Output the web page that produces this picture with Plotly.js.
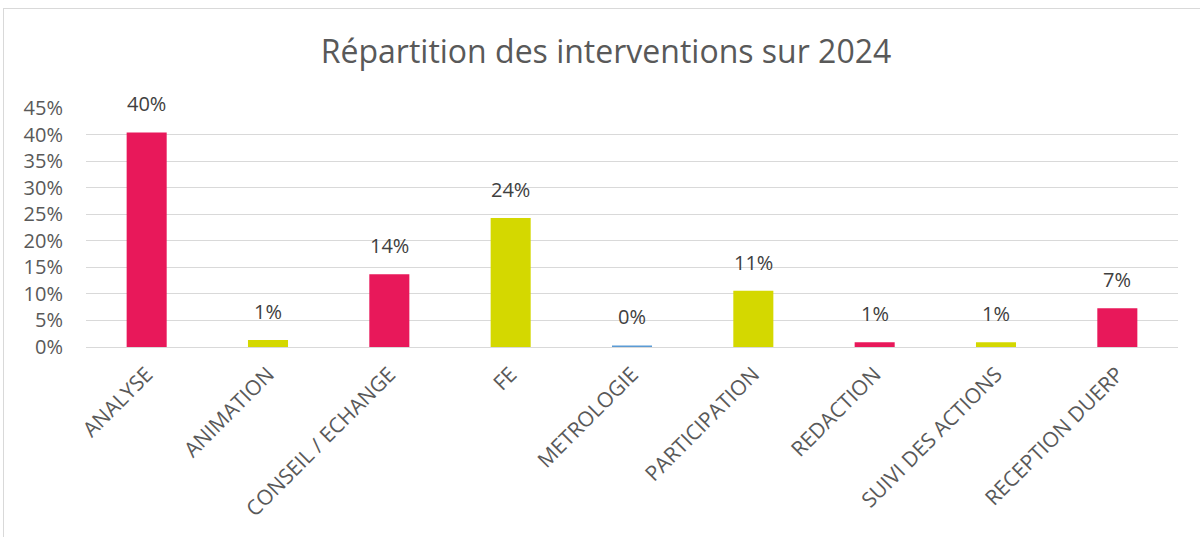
<!DOCTYPE html>
<html>
<head>
<meta charset="utf-8">
<script src="https://cdn.plot.ly/plotly-3.0.1.min.js"></script>
<style>
html,body{margin:0;padding:0;background:#fff;}
#wrap{position:relative;width:1200px;height:537px;}
#chart{width:1200px;height:537px;}
#frame{position:absolute;left:3px;top:8px;width:1300px;height:600px;border-left:1px solid #d9d9d9;border-top:1px solid #d9d9d9;pointer-events:none;}
</style>
</head>
<body>
<div id="wrap"><div id="chart"></div><div id="frame"></div></div>
<script>
const categories = ["ANALYSE","ANIMATION","CONSEIL / ECHANGE","FE","METROLOGIE","PARTICIPATION","REDACTION","SUIVI DES ACTIONS","RECEPTION DUERP"];
const values = [0.404, 0.013, 0.137, 0.243, 0.003, 0.106, 0.009, 0.009, 0.073];
const labels = ["40%","1%","14%","24%","0%","11%","1%","1%","7%"];
const barColors = ["#E8185A","#D4D800","#E8185A","#D4D800","#5B9BD5","#D4D800","#E8185A","#D4D800","#E8185A"];
const yTickVals = [0,0.05,0.10,0.15,0.20,0.25,0.30,0.35,0.40,0.45];
const yTickText = ["0%","5%","10%","15%","20%","25%","30%","35%","40%","45%"];

const FONT = "'Open Sans', Lato, sans-serif";
const annotations = categories.map((c,i)=>({
  x: c, y: values[i], xref:'x', yref:'y', text: labels[i], showarrow:false,
  yanchor:'bottom', yshift: 13, font:{family:FONT,size:20,color:'#404040'}
}));

Plotly.newPlot('chart',[{
  type:'bar', x:categories, y:values, marker:{color:barColors}, width:0.33,
  hoverinfo:'none'
}],{
  width:1200, height:537,
  paper_bgcolor:'#ffffff', plot_bgcolor:'#ffffff',
  margin:{l:86,r:22,t:108,b:190},
  title:{text:"Répartition des interventions sur 2024", x:0.505, xanchor:'center', y:0.903, yanchor:'middle',
         font:{family:FONT,size:32,color:'#595959'}},
  xaxis:{type:'category', tickangle:-45, tickfont:{family:FONT,size:21,color:'#595959'},
         showgrid:false, showline:false, zeroline:false, ticks:'', ticklabelstandoff:10},
  yaxis:{range:[0,0.45], tickvals:yTickVals, ticktext:yTickText, showgrid:true, gridcolor:'#d9d9d9', gridwidth:1,
         zeroline:true, zerolinecolor:'#d9d9d9', zerolinewidth:1, showline:false, ticks:'',
         tickfont:{family:FONT,size:20,color:'#595959'}, ticklabelstandoff:22},
  showlegend:false,
  annotations:annotations
},{displayModeBar:false,staticPlot:true});
</script>
</body>
</html>
